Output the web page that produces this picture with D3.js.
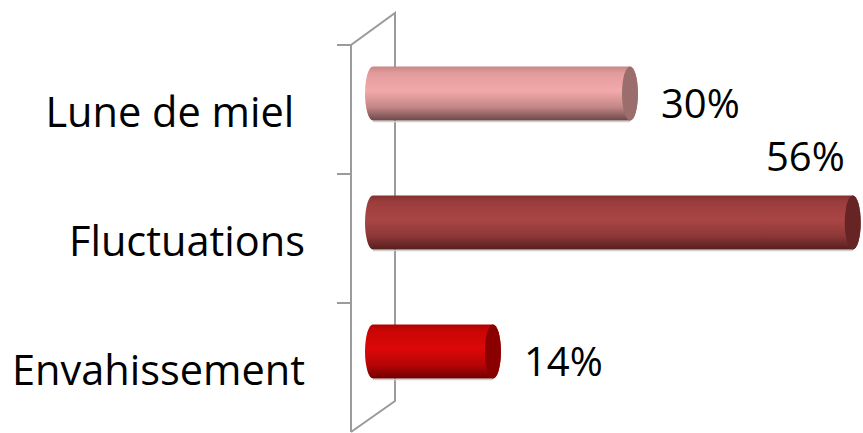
<!DOCTYPE html>
<html>
<head>
<meta charset="utf-8">
<script src="https://cdn.jsdelivr.net/npm/d3@7"></script>
<style>
  body { margin: 0; background: #fff; }
  text { font-family: "Open Sans", sans-serif; white-space: pre; }
</style>
</head>
<body>
<div id="chart"></div>
<script>
// data
var categories = ["Lune de miel ", "Fluctuations", "Envahissement"];
var values = [0.30, 0.56, 0.14];
var valueLabels = ["30%", "56%", "14%"];

// colours of each cylinder: top, light band, bottom, end cap
var palette = [
    { top: "#c98585", mid: "#f3a9a9", bot: "#6b4747", cap: "#9b6d6d" },
    { top: "#843030", mid: "#aa4545", bot: "#571e1e", cap: "#672424" },
    { top: "#b00000", mid: "#dc0808", bot: "#6e0000", cap: "#8a0000" }
];

var width = 863, height = 433;
var front = { left: 351, top: 45, bottom: 432 };
var depth = { dx: 44, dy: -32 };   // 3D depth of the back wall
var rx = 8;                       // half width of the elliptical ends

var svg = d3.select("#chart").append("svg")
    .attr("width", width)
    .attr("height", height);

var defs = svg.append("defs");
palette.forEach(function (p, i) {
    var g = defs.append("linearGradient")
        .attr("id", "cyl" + i)
        .attr("x1", 0).attr("y1", 0).attr("x2", 0).attr("y2", 1);
    g.append("stop").attr("offset", "0%").attr("stop-color", p.top);
    g.append("stop").attr("offset", "12%").attr("stop-color", d3.interpolate(p.top, p.mid)(0.6));
    g.append("stop").attr("offset", "45%").attr("stop-color", p.mid);
    g.append("stop").attr("offset", "75%").attr("stop-color", d3.interpolate(p.mid, p.bot)(0.35));
    g.append("stop").attr("offset", "100%").attr("stop-color", p.bot);
});

// scales on the front plane
var yScale = d3.scaleBand()
    .domain(categories)
    .range([front.top, front.bottom])
    .paddingInner(0.58)
    .paddingOuter(0.29);

var xScale = d3.scaleLinear()
    .domain([0, 0.6])
    .range([front.left, front.left + 514]);

// back wall outline
var wall = svg.append("g")
    .attr("fill", "none")
    .attr("stroke", "#9b9b9b")
    .attr("stroke-width", 2);

wall.append("path")
    .attr("d", d3.line()([
        [front.left, front.bottom],
        [front.left, front.top],
        [front.left + depth.dx, front.top + depth.dy],
        [front.left + depth.dx, front.bottom + depth.dy + 1],
        [front.left, front.bottom]
    ]));

// category ticks at the band edges
var step = yScale.step();
var tickYs = d3.range(categories.length).map(function (i) {
    return front.top + i * step;
});
wall.selectAll("line.tick")
    .data(tickYs)
    .enter()
    .append("line")
    .attr("class", "tick")
    .attr("x1", front.left - 14)
    .attr("x2", front.left)
    .attr("y1", d => d)
    .attr("y2", d => d);

// category labels
svg.append("g").selectAll("text")
    .data(categories)
    .enter()
    .append("text")
    .attr("x", 305)
    .attr("y", d => yScale(d) + yScale.bandwidth() / 2 + 17)
    .attr("text-anchor", "end")
    .attr("font-size", "41.5px")
    .attr("fill", "#000")
    .text(d => d);

// cylinders, placed half way into the depth
var bw = yScale.bandwidth();
var ry = bw / 2;
var bars = svg.append("g")
    .attr("transform", `translate(${depth.dx / 2}, ${depth.dy / 2})`);

var barData = categories.map(function (c, i) {
    return { cat: c, value: values[i], label: valueLabels[i], i: i };
});

var bar = bars.selectAll("g.bar")
    .data(barData)
    .enter()
    .append("g")
    .attr("class", "bar");

bar.append("line")
    .attr("x1", d => xScale(0))
    .attr("x2", d => xScale(d.value))
    .attr("y1", d => yScale(d.cat) + bw + 1)
    .attr("y2", d => yScale(d.cat) + bw + 1)
    .attr("stroke", "#d0d0d0")
    .attr("stroke-width", 1.5);

bar.append("path")
    .attr("fill", d => `url(#cyl${d.i})`)
    .attr("d", function (d) {
        var x0 = xScale(0), x1 = xScale(d.value);
        var t = yScale(d.cat), b = t + bw;
        return `M${x0},${t} L${x1},${t} A${rx},${ry} 0 0 1 ${x1},${b} ` +
            `L${x0},${b} A${rx},${ry} 0 0 1 ${x0},${t} Z`;
    });

bar.append("ellipse")
    .attr("cx", d => xScale(d.value))
    .attr("cy", d => yScale(d.cat) + ry)
    .attr("rx", rx)
    .attr("ry", ry)
    .attr("fill", d => palette[d.i].cap);

// value labels: right of the bar, or above it when there is no room
bar.append("text")
    .attr("font-size", "40px")
    .attr("fill", "#000")
    .text(d => d.label)
    .each(function (d) {
        var t = d3.select(this);
        var end = xScale(d.value) + depth.dx / 2;
        var w = this.getComputedTextLength();
        if (end + rx + 23 + w < width) {
            t.attr("x", xScale(d.value) + rx + 23)
                .attr("y", yScale(d.cat) + ry + 24);
        } else {
            t.attr("text-anchor", "end")
                .attr("x", xScale(d.value) - rx)
                .attr("y", yScale(d.cat) + ry - 52);
        }
    });
</script>
</body>
</html>
